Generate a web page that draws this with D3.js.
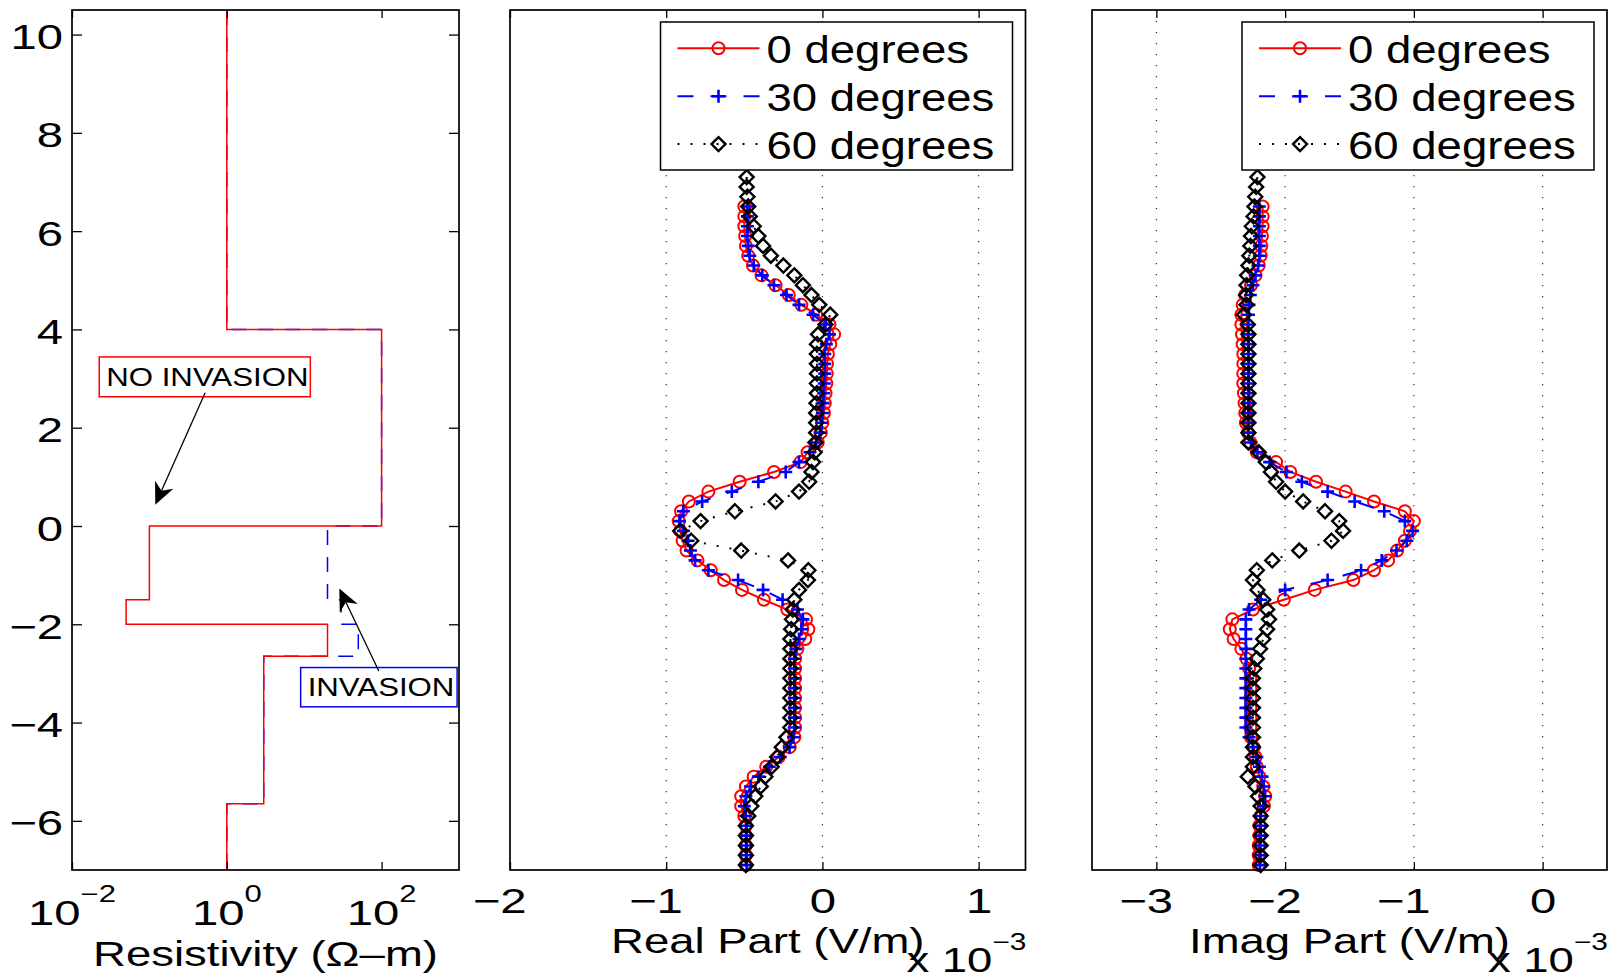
<!DOCTYPE html>
<html>
<head>
<meta charset="utf-8">
<title>Resistivity model and field response</title>
<script src="https://cdn.jsdelivr.net/npm/d3@7/dist/d3.min.js"></script>
<style>
  body { margin: 0; background: #fff; }
  svg { display: block; }
</style>
</head>
<body>
<svg id="chart" width="1612" height="976"></svg>
<script>
// ---- layered resistivity model (depth in ft, resistivity in ohm-m) ----
var layerTop      = [10.5, 4, 0, -1.5, -2, -2.65, -5.65];
var layerBottom   = [4, 0, -1.5, -2, -2.65, -5.65, -7];
var resNoInvasion = [1, 100, 0.1, 0.05, 20, 3, 1];
var resInvasion   = [1, 100, 20, 30, 50, 3, 1];

// ---- tool depths ----
var depth0 = [6.5, 6.3, 6.1, 5.9, 5.7, 5.5, 5.3, 5.1, 4.9, 4.7,
  4.5, 4.3, 4.1, 3.9, 3.7, 3.5, 3.3, 3.1, 2.9, 2.7,
  2.5, 2.3, 2.1, 1.9, 1.7, 1.5, 1.3, 1.1, 0.9, 0.7,
  0.5, 0.3, 0.1, -0.1, -0.3, -0.5, -0.7, -0.9, -1.1, -1.3,
  -1.5, -1.7, -1.9, -2.1, -2.3, -2.5, -2.7, -2.9, -3.1, -3.3,
  -3.5, -3.7, -3.9, -4.1, -4.3, -4.5, -4.7, -4.9, -5.1, -5.3,
  -5.5, -5.7, -5.9, -6.1, -6.3, -6.5, -6.7, -6.9];
var depth60 = [7.1, 6.9, 6.7,
  6.5, 6.3, 6.1, 5.9, 5.7, 5.5, 5.3, 5.1, 4.9, 4.7,
  4.5, 4.3, 4.1, 3.9, 3.7, 3.5, 3.3, 3.1, 2.9, 2.7,
  2.5, 2.3, 2.1, 1.9, 1.7, 1.5, 1.3, 1.1, 0.9, 0.7,
  0.5, 0.3, 0.1, -0.1, -0.3, -0.5, -0.7, -0.9, -1.1, -1.3,
  -1.5, -1.7, -1.9, -2.1, -2.3, -2.5, -2.7, -2.9, -3.1, -3.3,
  -3.5, -3.7, -3.9, -4.1, -4.3, -4.5, -4.7, -4.9, -5.1, -5.3,
  -5.5, -5.7, -5.9, -6.1, -6.3, -6.5, -6.7, -6.9];

// ---- real part (x 1e-3 V/m) ----
var real0 = [-0.50, -0.50, -0.50, -0.495, -0.49, -0.475, -0.445, -0.39, -0.30, -0.215,
  -0.135, -0.04, 0.045, 0.075, 0.05, 0.035, 0.03, 0.028, 0.025, 0.02,
  0.015, 0.01, 0.0, -0.01, -0.03, -0.095, -0.14, -0.31, -0.53, -0.73,
  -0.855, -0.905, -0.92, -0.91, -0.895, -0.87, -0.80, -0.715, -0.63, -0.515,
  -0.375, -0.225, -0.105, -0.09, -0.11, -0.16, -0.175, -0.175, -0.175, -0.175,
  -0.175, -0.175, -0.175, -0.175, -0.18, -0.21, -0.28, -0.36, -0.44, -0.49,
  -0.52, -0.52, -0.50, -0.49, -0.49, -0.49, -0.49, -0.49];
var real30 = [-0.48, -0.48, -0.48, -0.48, -0.475, -0.465, -0.44, -0.385, -0.31, -0.23,
  -0.15, -0.06, 0.02, 0.045, 0.025, 0.015, 0.015, 0.015, 0.012, 0.008,
  0.005, 0.0, -0.005, -0.015, -0.04, -0.08, -0.15, -0.235, -0.41, -0.58,
  -0.77, -0.89, -0.915, -0.89, -0.86, -0.845, -0.815, -0.73, -0.54, -0.38,
  -0.255, -0.16, -0.125, -0.135, -0.15, -0.17, -0.18, -0.18, -0.18, -0.18,
  -0.18, -0.18, -0.18, -0.18, -0.185, -0.21, -0.27, -0.34, -0.41, -0.46,
  -0.49, -0.50, -0.49, -0.485, -0.485, -0.485, -0.485, -0.485];
var real60 = [-0.485, -0.485, -0.48,
  -0.475, -0.465, -0.44, -0.41, -0.38, -0.33, -0.25, -0.18, -0.125, -0.07,
  -0.02, 0.05, 0.02, -0.028, -0.035, -0.035, -0.035, -0.035, -0.035, -0.035,
  -0.038, -0.04, -0.04, -0.04, -0.045, -0.05, -0.06, -0.07, -0.085, -0.15,
  -0.30, -0.56, -0.78, -0.91, -0.84, -0.52, -0.22, -0.09, -0.093, -0.15,
  -0.18, -0.19, -0.195, -0.2, -0.205, -0.205, -0.205, -0.205, -0.205, -0.205,
  -0.205, -0.205, -0.205, -0.205, -0.23, -0.26, -0.29, -0.325, -0.365, -0.395,
  -0.43, -0.455, -0.475, -0.49, -0.49, -0.49, -0.49, -0.49];

// ---- imaginary part (x 1e-3 V/m) ----
var imag0 = [-2.175, -2.175, -2.175, -2.18, -2.185, -2.19, -2.205, -2.23, -2.265, -2.31,
  -2.33, -2.34, -2.34, -2.335, -2.33, -2.325, -2.325, -2.325, -2.325, -2.32,
  -2.315, -2.31, -2.305, -2.29, -2.27, -2.22, -2.07, -1.96, -1.76, -1.53,
  -1.31, -1.07, -1.0, -1.03, -1.07, -1.13, -1.2, -1.31, -1.47, -1.77,
  -2.01, -2.25, -2.41, -2.43, -2.40, -2.34, -2.30, -2.28, -2.27, -2.27,
  -2.27, -2.27, -2.27, -2.27, -2.265, -2.245, -2.23, -2.22, -2.2, -2.17,
  -2.155, -2.165, -2.19, -2.2, -2.2, -2.205, -2.205, -2.205];
var imag30 = [-2.2, -2.2, -2.2, -2.2, -2.2, -2.2, -2.21, -2.23, -2.25, -2.27,
  -2.28, -2.285, -2.285, -2.285, -2.285, -2.285, -2.285, -2.285, -2.285, -2.285,
  -2.285, -2.285, -2.285, -2.285, -2.265, -2.215, -2.12, -1.99, -1.87, -1.67,
  -1.46, -1.23, -1.07, -1.01, -1.055, -1.135, -1.25, -1.41, -1.67, -2.0,
  -2.19, -2.28, -2.305, -2.305, -2.305, -2.305, -2.305, -2.305, -2.305, -2.305,
  -2.305, -2.305, -2.305, -2.305, -2.28, -2.25, -2.22, -2.2, -2.18, -2.165,
  -2.155, -2.17, -2.19, -2.19, -2.19, -2.195, -2.195, -2.195];
var imag60 = [-2.215, -2.225, -2.232,
  -2.238, -2.245, -2.258, -2.265, -2.27, -2.278, -2.285, -2.295, -2.3, -2.303,
  -2.3, -2.32, -2.29, -2.285, -2.285, -2.285, -2.285, -2.285, -2.285, -2.285,
  -2.285, -2.285, -2.285, -2.285, -2.285, -2.205, -2.15, -2.11, -2.07, -2.0,
  -1.86, -1.69, -1.58, -1.55, -1.64, -1.89, -2.1, -2.22, -2.25, -2.215,
  -2.17, -2.14, -2.125, -2.14, -2.17, -2.195, -2.22, -2.24, -2.25, -2.25,
  -2.25, -2.25, -2.25, -2.25, -2.25, -2.25, -2.25, -2.25, -2.29, -2.23,
  -2.21, -2.19, -2.19, -2.19, -2.19, -2.19, -2.19, -2.19];

var seriesNames = ["0 degrees", "30 degrees", "60 degrees"];
var depthSets   = [depth0, depth0, depth60];

var depthTicks = [-6, -4, -2, 0, 2, 4, 6, 8, 10];
var resTicks   = [1e-2, 1e0, 1e2];
var realTicks  = [-2, -1, 0, 1];
var imagTicks  = [-3, -2, -1, 0];

// annotations, placed in data coordinates of the resistivity panel
var annotations = [
  {text: "NO INVASION", color: "#ff0000", box: [[0.0225, 3.44], [12.0, 2.63]], from: [0.525, 2.71], to: [0.119, 0.43]},
  {text: "INVASION", color: "#0000ff", box: [[9.0, -2.88], [945, -3.68]], from: [92, -2.95], to: [28.4, -1.27]}
];

// ---- styles ----
var FONT = "'Liberation Sans', Arial, Helvetica, sans-serif";
var seriesColors = ["#ff0000", "#0000ff", "#000000"];
var seriesDash   = [null, "16,17", "2,11"];
var seriesMarker = ["circle", "plus", "diamond"];
var TICK_SX = 1.35, LABEL_SX = 1.3;

var plotTop = 10, plotBottom = 870;
var svg = d3.select("#chart").attr("font-family", FONT);

var y = d3.scaleLinear().domain([-7, 10.5]).range([plotBottom, plotTop]);
var xRes  = d3.scaleLog().domain([1e-2, 1e3]).range([72, 459]);
var xReal = d3.scaleLinear().domain([-2, 1.3]).range([510, 1025.5]);
var xImag = d3.scaleLinear().domain([-3.5, 0.5]).range([1092, 1607]);

function styleAxis(g) {
  g.attr("font-family", FONT).attr("font-size", 35);
  g.select(".domain").remove();
  g.selectAll(".tick line").attr("stroke", "#000").attr("stroke-width", 1.3);
}

function stretchedText(g, x, yy, sx, size, anchor) {
  return g.append("text")
    .attr("transform", "translate(" + x + "," + yy + ") scale(" + sx + ",1)")
    .attr("font-size", size)
    .attr("text-anchor", anchor || "middle")
    .attr("fill", "#000");
}

function marker(sel, i) {
  var c = seriesColors[i];
  if (seriesMarker[i] === "circle") {
    sel.append("circle").attr("r", 6).attr("fill", "none")
      .attr("stroke", c).attr("stroke-width", 2);
  } else if (seriesMarker[i] === "plus") {
    sel.append("path").attr("d", "M-6.5,0H6.5M0,-6.5V6.5")
      .attr("stroke", c).attr("stroke-width", 2.6);
  } else {
    sel.append("path").attr("d", "M0,-7L7,0L0,7L-7,0Z").attr("fill", "none")
      .attr("stroke", c).attr("stroke-width", 2.4);
  }
}

function frame(g, x) {
  var r = x.range();
  g.append("rect")
    .attr("x", r[0]).attr("y", plotTop)
    .attr("width", r[1] - r[0]).attr("height", plotBottom - plotTop)
    .attr("fill", "none").attr("stroke", "#000").attr("stroke-width", 1.7);
}

function xTicks(g, x, ticks, withLabels) {
  g.append("g").attr("transform", "translate(0," + plotTop + ")")
    .call(d3.axisTop(x).tickValues(ticks).tickSizeInner(-8).tickSizeOuter(0).tickFormat(""))
    .call(styleAxis);
  var bottom = g.append("g").attr("transform", "translate(0," + plotBottom + ")")
    .call(d3.axisBottom(x).tickValues(ticks).tickSizeInner(-8).tickSizeOuter(0)
      .tickPadding(18).tickFormat(d3.format("d")))
    .call(styleAxis);
  if (withLabels) {
    bottom.selectAll(".tick text")
      .attr("transform", "scale(" + TICK_SX + ",1)")
      .attr("x", function(d) { return d < 0 ? -8 : 0; });
  } else {
    bottom.selectAll(".tick text").remove();
  }
}

// ================= panel 1: resistivity =================
var p1 = svg.append("g");
var resLine = d3.line()
  .x(function(d) { return xRes(d[0]); })
  .y(function(d) { return y(d[1]); });

function stepPoints(res) {
  var pts = [];
  res.forEach(function(r, i) {
    pts.push([r, layerTop[i]]);
    pts.push([r, layerBottom[i]]);
  });
  return pts;
}

p1.append("path").attr("d", resLine(stepPoints(resInvasion)))
  .attr("fill", "none").attr("stroke", "#0000ff").attr("stroke-width", 1.5)
  .attr("stroke-dasharray", "15,12");
p1.append("path").attr("d", resLine(stepPoints(resNoInvasion)))
  .attr("fill", "none").attr("stroke", "#ff0000").attr("stroke-width", 1.5);

// annotations with arrows
annotations.forEach(function(a) {
  var bx0 = xRes(a.box[0][0]), by0 = y(a.box[0][1]);
  var bx1 = xRes(a.box[1][0]), by1 = y(a.box[1][1]);
  p1.append("rect").attr("x", bx0).attr("y", by0)
    .attr("width", bx1 - bx0).attr("height", by1 - by0)
    .attr("fill", "none").attr("stroke", a.color).attr("stroke-width", 1.5);
  stretchedText(p1, bx0 + 7, by1 - 10.5, 1.2, 26, "start").text(a.text);

  var fx = xRes(a.from[0]), fy = y(a.from[1]);
  var tx = xRes(a.to[0]), ty = y(a.to[1]);
  var len = Math.hypot(tx - fx, ty - fy);
  var ux = (tx - fx) / len, uy = (ty - fy) / len;
  var hl = 22, hw = 10;
  var bx = tx - ux * hl, by = ty - uy * hl;
  var nx = tx - ux * hl * 0.7, ny = ty - uy * hl * 0.7;
  p1.append("line").attr("x1", fx).attr("y1", fy).attr("x2", nx).attr("y2", ny)
    .attr("stroke", "#000").attr("stroke-width", 1.3);
  p1.append("path")
    .attr("d", "M" + tx + "," + ty +
      "L" + (bx - uy * hw) + "," + (by + ux * hw) +
      "L" + nx + "," + ny +
      "L" + (bx + uy * hw) + "," + (by - ux * hw) + "Z")
    .attr("fill", "#000");
});

frame(p1, xRes);

var yAxis = p1.append("g").attr("transform", "translate(" + xRes.range()[0] + ",0)")
  .call(d3.axisLeft(y).tickValues(depthTicks).tickSizeInner(-10).tickSizeOuter(0)
    .tickPadding(9).tickFormat(d3.format("d")))
  .call(styleAxis);
yAxis.selectAll(".tick text")
  .attr("transform", "scale(" + TICK_SX + ",1)")
  .attr("x", -9 / TICK_SX)
  .attr("dy", "0.4em");
p1.append("g").attr("transform", "translate(" + xRes.range()[1] + ",0)")
  .call(d3.axisRight(y).tickValues(depthTicks).tickSizeInner(-10).tickSizeOuter(0).tickFormat(""))
  .call(styleAxis);
xTicks(p1, xRes, resTicks, false);

// power-of-ten labels
resTicks.forEach(function(t) {
  var lbl = stretchedText(p1, xRes(t), 925, TICK_SX, 35, "middle");
  lbl.append("tspan").text("10");
  lbl.append("tspan").attr("font-size", 23).attr("dy", -23)
    .text(d3.format("d")(Math.round(Math.log10(t))));
});
stretchedText(p1, d3.mean(xRes.range()), 966, LABEL_SX, 35, "middle")
  .text("Resistivity (\u03A9\u2013m)");

// ================= panels 2 and 3: field components =================
function drawFieldPanel(x, ticks, values, label) {
  var g = svg.append("g");
  var left = x.range()[0], right = x.range()[1];

  g.selectAll("line.grid")
    .data(ticks.filter(function(t) { return x(t) > left + 2; }))
    .enter().append("line")
    .attr("class", "grid")
    .attr("x1", x).attr("x2", x)
    .attr("y1", plotTop).attr("y2", plotBottom)
    .attr("stroke", "#333").attr("stroke-width", 1.2)
    .attr("stroke-dasharray", "1.2,9.8");

  var line = d3.line()
    .x(function(d) { return x(d[0]); })
    .y(function(d) { return y(d[1]); });

  values.forEach(function(vals, i) {
    var depth = depthSets[i];
    var pts = vals.map(function(v, j) { return [v, depth[j]]; });
    g.append("path").attr("d", line(pts))
      .attr("fill", "none").attr("stroke", seriesColors[i]).attr("stroke-width", 2)
      .attr("stroke-dasharray", seriesDash[i]);
    g.append("g").selectAll("g")
      .data(pts).enter().append("g")
      .attr("transform", function(d) { return "translate(" + x(d[0]) + "," + y(d[1]) + ")"; })
      .call(marker, i);
  });

  // legend
  var lw = 352, lh = 148;
  var lg = g.append("g").attr("transform", "translate(" + (right - 13 - lw) + "," + (plotTop + 12) + ")");
  lg.append("rect").attr("width", lw).attr("height", lh)
    .attr("fill", "#fff").attr("stroke", "#000").attr("stroke-width", 1.5);
  seriesNames.forEach(function(name, i) {
    var row = lg.append("g").attr("transform", "translate(0," + (26.3 + i * 47.9) + ")");
    row.append("line").attr("x1", 17).attr("x2", 99)
      .attr("stroke", seriesColors[i]).attr("stroke-width", 2)
      .attr("stroke-dasharray", seriesDash[i]);
    row.append("g").attr("transform", "translate(58,0)").call(marker, i);
    stretchedText(row, 106, 14.5, 1.15, 39.6, "start").text(name);
  });

  frame(g, x);
  xTicks(g, x, ticks, true);

  stretchedText(g, (left + right) / 2, 953, LABEL_SX, 35, "middle").text(label);
  var sc = stretchedText(g, right + 1, 972, LABEL_SX, 35, "end");
  sc.append("tspan").text("x 10");
  sc.append("tspan").attr("font-size", 23).attr("dy", -22).text("\u22123");
}

drawFieldPanel(xReal, realTicks, [real0, real30, real60], "Real Part (V/m)");
drawFieldPanel(xImag, imagTicks, [imag0, imag30, imag60], "Imag Part (V/m)");
</script>
</body>
</html>
